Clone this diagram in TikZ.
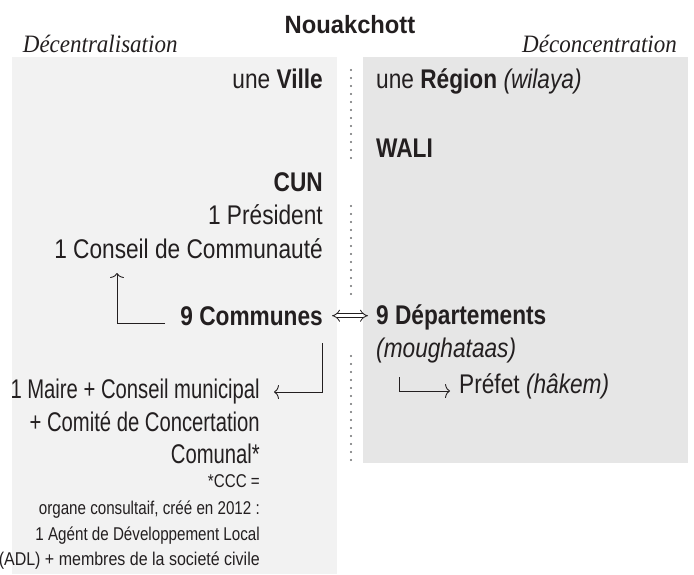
\documentclass[tikz,border=0pt]{standalone}
\usepackage{fontspec}
\setmainfont{Liberation Sans}[FakeStretch=0.84]
\newfontfamily\titlef{Liberation Sans}[FakeStretch=0.95]
\newfontfamily\serifit{Liberation Serif}[FakeStretch=0.92]
\newfontfamily\lowf{Liberation Sans}[FakeStretch=0.75]
\newfontfamily\smallf{Liberation Sans}[FakeStretch=0.82]
\newfontfamily\smallw{Liberation Sans}[FakeStretch=0.865]
\usetikzlibrary{arrows.meta}
\definecolor{txt}{HTML}{231F20}
\definecolor{leftbg}{HTML}{F2F2F2}
\definecolor{rightbg}{HTML}{E6E6E6}
\definecolor{dotc}{HTML}{6D6E70}
\tikzset{
  lbl/.style={inner sep=0pt, text=txt, font=\fontsize{27}{31}\selectfont},
  lblm/.style={inner sep=0pt, text=txt, font=\lowf\fontsize{27}{31}\selectfont},
  lbls/.style={inner sep=0pt, text=txt, font=\smallf\fontsize{18.5}{21}\selectfont},
  hdr/.style={inner sep=0pt, text=txt, font=\serifit\itshape\fontsize{25}{29}\selectfont},
  arr/.style={draw=txt, line width=0.9pt, -{Computer Modern Rightarrow[length=5pt,width=14pt]}},
  dotline/.style={draw=dotc, line width=2.2pt, line cap=round, dash pattern=on 0pt off 8pt},
}
\begin{document}
\begin{tikzpicture}[x=1pt,y=-1pt]
\useasboundingbox (0,0) rectangle (694,574);
% panels
\fill[leftbg] (12,57) rectangle (337,574);
\fill[rightbg] (363,57) rectangle (688,463);
% dotted separators
\draw[dotline] (351,70) -- (351,165);
\draw[dotline] (351,206) -- (351,296);
\draw[dotline] (351,356) -- (351,461);
% headers
\node[inner sep=0pt, text=txt, font=\titlef\bfseries\fontsize{25}{30}\selectfont, anchor=base] (title) at (350,33) {Nouakchott};
\node[hdr, anchor=base west] (decen) at (22.7,52) {Décentralisation};
\node[hdr, anchor=base east] (decon) at (677,52) {Déconcentration};
% left column
\node[lbl, anchor=base east] (ville) at (323,88) {une \textbf{Ville}};
\node[lbl, anchor=base east] (cun) at (323,191) {\textbf{CUN}};
\node[lbl, anchor=base east] (pres) at (323,224) {1 Président};
\node[lbl, anchor=base east] (conseil) at (323,258) {1 Conseil de Communauté};
\node[lbl, anchor=base east] (comm) at (323,325) {\textbf{9 Communes}};
\node[lblm, anchor=base east] (maire) at (260,398) {1 Maire + Conseil municipal};
\node[lblm, anchor=base east] (comite) at (260,431) {+ Comité de Concertation};
\node[lblm, anchor=base east] (comunal) at (260,463) {Comunal*};
\node[lbls, anchor=base east] (ccc) at (260,487) {*CCC =};
\node[lbls, anchor=base east] (organe) at (260,514) {organe consultaif, créé en 2012 :};
\node[lbls, anchor=base east] (agent) at (260,540) {1 Agént de Développement Local};
\node[lbls, font=\smallw\fontsize{18.5}{21}\selectfont, anchor=base east] (adl) at (260,565) {(ADL) + membres de la societé civile};
% right column
\node[lbl, anchor=base west] (region) at (376,88) {une \textbf{Région} \textit{(wilaya)}};
\node[lbl, anchor=base west] (wali) at (376,157) {\textbf{WALI}};
\node[lbl, anchor=base west] (dep) at (376,324) {\textbf{9 Départements}};
\node[lbl, anchor=base west] (mough) at (376,357) {\textit{(moughataas)}};
\node[lbl, anchor=base west] (prefet) at (459,393) {Préfet \textit{(hâkem)}};
% connectors
\coordinate (upTip) at (117,273);
\coordinate (maireTip) at (274,392);
\coordinate (prefTip) at (450,391);
\draw[arr] ([xshift=-15pt,yshift=2pt]comm.base west) -| (upTip);
\draw[arr] ([xshift=-1pt,yshift=-18pt]comm.base east) |- (maireTip);
\draw[arr] ([xshift=23pt,yshift=-20pt]mough.base west) |- (prefTip);
\draw[draw=txt, line width=0.8pt, double=white, double distance=3.4pt,
      {Implies[scale=1.35]}-{Implies[scale=1.35]}, shorten <=9pt, shorten >=8pt]
  (comm.east) -- (comm.east -| dep.west);
\end{tikzpicture}
\end{document}
